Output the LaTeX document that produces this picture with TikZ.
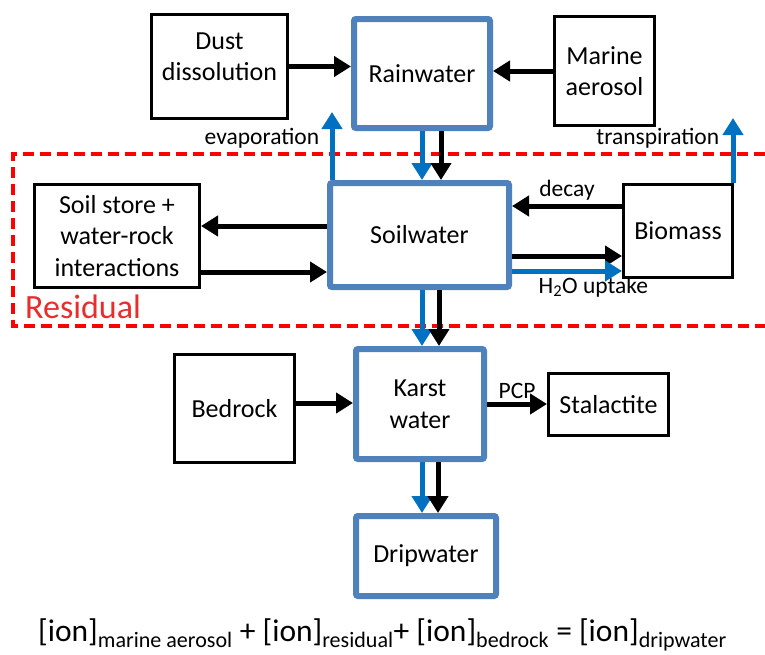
\documentclass[tikz,border=0pt]{standalone}
\usepackage{amsmath}
\usepackage{fontspec}
\setmainfont{Carlito}
\usetikzlibrary{arrows.meta,calc}

\definecolor{poolblue}{RGB}{79,129,189}
\definecolor{flowblue}{RGB}{0,112,192}
\definecolor{resred}{RGB}{255,0,0}
\definecolor{restext}{RGB}{232,45,45}

\tikzset{
  src/.style={draw=black, line width=3pt, align=center, inner sep=0pt},
  pool/.style={draw=poolblue, line width=6pt, rounded corners=2pt, align=center, inner sep=0pt},
  flow/.style={line width=5pt, -{Triangle[length=17pt,width=20pt]}},
  waterflow/.style={flow, draw=flowblue},
  lbl/.style={font=\fontsize{23.5}{28}\selectfont}
}

\begin{document}
\begin{tikzpicture}[x=1pt,y=-1pt,font=\fontsize{26}{31.5}\selectfont]
  \useasboundingbox (0,0) rectangle (765,654);

  % residual region
  \draw[resred, line width=4pt, dash pattern=on 11pt off 6pt]
    (765,154) -- (13,154) -- (13,326) -- (765,326);
  \node[text=restext, inner sep=0pt, anchor=base west, font=\fontsize{34}{40}\selectfont] (resid) at (25,318) {Residual};

  % stores and sources
  \node[src, minimum width=136pt, minimum height=104pt,
        label={[align=center,yshift=10pt]center:{Dust\\dissolution}}] (dust) at (219.5,66.5) {};
  \node[pool, minimum width=136pt, minimum height=109pt] (rain) at (422,73.5) {Rainwater};
  \node[src, minimum width=100pt, minimum height=109pt] (marine) at (604.5,71) {Marine\\aerosol};
  \node[src, minimum width=165pt, minimum height=103pt] (store) at (117,236) {Soil store +\\water-rock\\interactions};
  \node[pool, minimum width=179pt, minimum height=104pt] (soil) at (419.5,235) {Soilwater};
  \node[src, minimum width=109pt, minimum height=93pt] (bio) at (678,231) {Biomass};
  \node[src, minimum width=120pt, minimum height=108pt] (bed) at (234.5,408.5) {Bedrock};
  \node[pool, minimum width=128pt, minimum height=110pt] (karst) at (420,404) {Karst\\water};
  \node[src, minimum width=120pt, minimum height=62pt] (stal) at (608.5,404.5) {Stalactite};
  \node[pool, minimum width=140pt, minimum height=80pt] (drip) at (426,556) {Dripwater};

  % inputs to rainwater
  \draw[flow] (dust.east) -- (dust.east -| rain.west);
  \draw[flow] (marine.west) -- (marine.west -| rain.east);

  % rainwater into soilwater
  \draw[waterflow] (rain.south) -- (rain.south |- soil.north);
  \draw[flow] ($(rain.south)+(19,0)$) -- ($(rain.south |- soil.north)+(19,0)$);

  % water lost upwards
  \coordinate (evapend) at (332,112);
  \coordinate (transend) at (733,118);
  \draw[waterflow] (soil.north west -| evapend) -- (evapend)
    node[lbl, pos=0.62, left, xshift=-7pt] {evaporation};
  \draw[waterflow] (bio.north east -| transend) -- (transend)
    node[lbl, pos=0.69, left, xshift=-8pt] {transpiration};

  % soil store exchange
  \draw[flow] ([yshift=9pt]soil.west) -- ([yshift=10pt]store.east);
  \draw[flow] ([yshift=-36pt]store.east) -- ([yshift=-37pt]soil.west);

  % biomass exchange
  \draw[flow] ([yshift=25pt]bio.west) -- ([yshift=29pt]soil.east) node[lbl, midway, above] {decay};
  \draw[flow] ([yshift=-21pt]soil.east) -- ([yshift=-25pt]bio.west);
  \draw[waterflow] ([yshift=-36pt]soil.east) -- ([yshift=-40pt]bio.west)
    node[lbl, pos=0.74, below] {H\textsubscript{2}O uptake};

  % soilwater into karst water
  \draw[waterflow] ($(karst.north |- soil.south)+(2,0)$) -- ($(karst.north)+(2,0)$);
  \draw[flow] ($(karst.north |- soil.south)+(19,0)$) -- ($(karst.north)+(19,0)$);

  % karst water
  \draw[flow] ([yshift=5.5pt]bed.east) -- ([yshift=1pt]karst.west);
  \draw[flow] (karst.east) -- (karst.east -| stal.west) node[lbl, midway, above] {PCP};
  \draw[waterflow] ($(karst.south)+(2,0)$) -- ($(karst.south |- drip.north)+(2,0)$);
  \draw[flow] ($(karst.south)+(18,0)$) -- ($(karst.south |- drip.north)+(18,0)$);

  % mass balance
  \node[anchor=base, font=\fontsize{31.5}{36}\selectfont] (balance) at (382.5,641)
    {[ion]$_{\text{marine aerosol}}$ + [ion]$_{\text{residual}}$+ [ion]$_{\text{bedrock}}$ = [ion]$_{\text{dripwater}}$};
\end{tikzpicture}
\end{document}
